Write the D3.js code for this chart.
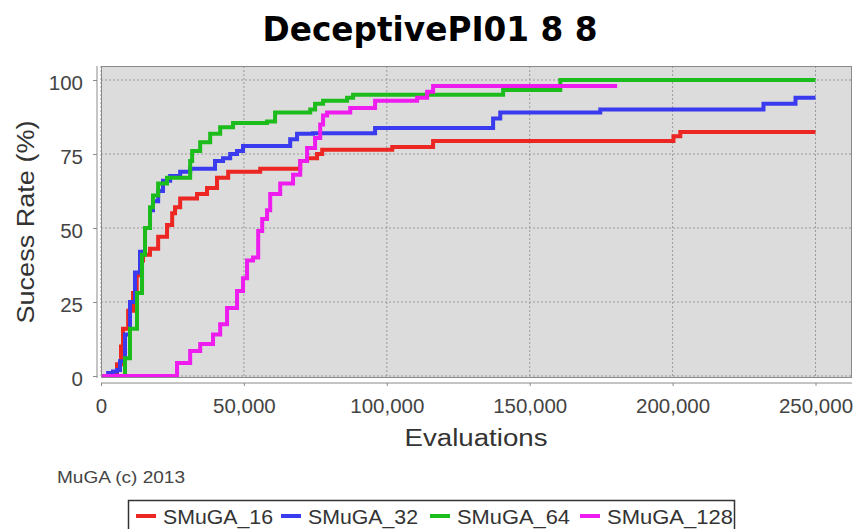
<!DOCTYPE html>
<html>
<head>
<meta charset="utf-8">
<script src="https://cdn.jsdelivr.net/npm/d3@7"></script>
<style>
  html, body { margin: 0; padding: 0; background: #fff; }
  svg { display: block; font-family: "Liberation Sans", Arial, sans-serif; }
</style>
</head>
<body>
<svg id="chart" width="858" height="529"></svg>
<script>
// ── Data ──────────────────────────────────────────────────────────────────
const seriesNames = ["SMuGA_16", "SMuGA_32", "SMuGA_64", "SMuGA_128"];
const seriesColors = ["#ec2622", "#3a3aee", "#1cbc1c", "#ee1cee"];

const smuga16Evals = [0, 5600, 7000, 7700, 9500, 11200, 12500, 13650, 14700, 17150, 20000, 23100, 24900, 25900, 27700, 33600, 37100, 40600, 44500, 55700, 69700, 72100, 75600, 77400, 101900, 116200, 200300, 202700, 250000];
const smuga16Rate  = [0, 4, 10, 16, 22, 28, 34, 39, 41, 43, 47, 51, 55, 57, 60, 61.5, 63.5, 67, 69, 70, 72.6, 73.6, 75, 76.4, 77.4, 79.4, 81, 82.4, 82.4];

const smuga32Evals = [0, 2500, 4200, 5600, 6650, 8400, 10150, 11900, 13650, 15400, 17150, 18200, 20000, 21700, 24200, 27700, 31200, 39900, 42700, 45200, 47600, 49700, 66200, 68600, 74200, 95900, 137200, 139700, 174700, 231800, 243000, 250000];
const smuga32Rate  = [0, 1, 1.5, 2, 5, 14, 25, 35, 42, 50, 56, 59, 62.5, 66, 67.6, 69, 70, 72.6, 73.6, 75, 76, 77.7, 80, 81.8, 82, 83.8, 87, 89, 90, 92, 94, 94];

const smuga64Evals = [0, 6650, 8400, 10150, 12600, 14350, 15400, 17150, 18200, 20000, 23100, 31200, 31900, 34700, 38200, 41700, 46200, 58100, 60900, 73200, 74900, 77700, 86100, 88200, 140700, 160700, 250000];
const smuga64Rate  = [0, 0, 6, 16, 28, 41, 50, 57, 61, 65, 67, 72.6, 76, 79, 81.8, 84, 85.5, 86, 89, 90, 92, 93, 94, 95, 96.6, 100, 100];

const smuga128Evals = [0, 23100, 26600, 31200, 34700, 39200, 41700, 44100, 47600, 49700, 51100, 53200, 55000, 56400, 58100, 59200, 62700, 67200, 69700, 72100, 74900, 76700, 77700, 79100, 87200, 95900, 110600, 114100, 116200, 180600];
const smuga128Rate  = [0, 0, 4.4, 8.4, 10.8, 14, 17.5, 23, 28.7, 33, 39, 40, 49, 53, 56, 61.5, 65, 68, 72.6, 77, 80.4, 85, 88, 89, 90.5, 93, 94, 96, 98, 98];

const xTicks = [0, 50000, 100000, 150000, 200000, 250000];
const yTicks = [0, 25, 50, 75, 100];

const seriesEvals = [smuga16Evals, smuga32Evals, smuga64Evals, smuga128Evals];
const seriesRates = [smuga16Rate, smuga32Rate, smuga64Rate, smuga128Rate];

// ── Layout ────────────────────────────────────────────────────────────────
const plot = { left: 101, right: 852, top: 66, bottom: 378 };
const AXIS_GRAY = "#8a8a8a";
const GRID_GRAY = "#9a9a9a";

const svg = d3.select("#chart");

const x = d3.scaleLinear()
  .domain([0, 262770])
  .range([plot.left, plot.right]);
const y = d3.scaleLinear()
  .domain([-0.68, 104.73])
  .range([plot.bottom, plot.top]);

// Title
svg.append("text")
  .attr("x", 430).attr("y", 41)
  .attr("text-anchor", "middle")
  .attr("font-family", "'DejaVu Sans', sans-serif")
  .attr("font-weight", "bold")
  .attr("font-size", 33)
  .attr("textLength", 335)
  .attr("lengthAdjust", "spacingAndGlyphs")
  .attr("fill", "#000")
  .text("DeceptivePI01 8 8");

// Plot background
svg.append("rect")
  .attr("x", plot.left).attr("y", plot.top)
  .attr("width", plot.right - plot.left)
  .attr("height", plot.bottom - plot.top)
  .attr("fill", "#dcdcdc");

// Gridlines
const grid = svg.append("g");
grid.selectAll("line.gx")
  .data(xTicks)
  .enter().append("line")
  .attr("x1", d => x(d)).attr("x2", d => x(d))
  .attr("y1", plot.top).attr("y2", plot.bottom)
  .attr("stroke", GRID_GRAY).attr("stroke-width", 1)
  .attr("stroke-dasharray", "2,2");
grid.selectAll("line.gy")
  .data(yTicks)
  .enter().append("line")
  .attr("x1", plot.left).attr("x2", plot.right)
  .attr("y1", d => y(d)).attr("y2", d => y(d))
  .attr("stroke", GRID_GRAY).attr("stroke-width", 1)
  .attr("stroke-dasharray", "2,2");

// Series
svg.append("defs").append("clipPath").attr("id", "clip")
  .append("rect")
  .attr("x", plot.left).attr("y", plot.top)
  .attr("width", plot.right - plot.left)
  .attr("height", plot.bottom - plot.top);

const line = d3.line()
  .x(d => x(d[0]))
  .y(d => y(d[1]))
  .curve(d3.curveStepAfter);

svg.append("g")
  .attr("clip-path", "url(#clip)")
  .selectAll("path")
  .data(seriesNames.map((name, i) => d3.zip(seriesEvals[i], seriesRates[i])))
  .enter().append("path")
  .attr("d", line)
  .attr("fill", "none")
  .attr("stroke", (d, i) => seriesColors[i])
  .attr("stroke-width", 4);

// Plot outline
svg.append("rect")
  .attr("x", plot.left + 0.5).attr("y", plot.top + 0.5)
  .attr("width", plot.right - plot.left - 1)
  .attr("height", plot.bottom - plot.top - 1)
  .attr("fill", "none")
  .attr("stroke", AXIS_GRAY);

// Axes
const xAxis = d3.axisBottom(x)
  .tickValues(xTicks)
  .tickFormat(d3.format(","))
  .tickSizeInner(3).tickSizeOuter(0).tickPadding(12);
const gx = svg.append("g")
  .attr("transform", `translate(0,${plot.bottom + 5})`)
  .call(xAxis);

const yAxis = d3.axisLeft(y)
  .tickValues(yTicks)
  .tickSizeInner(4).tickSizeOuter(0).tickPadding(10);
const gy = svg.append("g")
  .attr("transform", `translate(${plot.left - 4},0)`)
  .call(yAxis);

for (const g of [gx, gy]) {
  g.select(".domain").attr("stroke", AXIS_GRAY);
  g.selectAll(".tick line").attr("stroke", AXIS_GRAY);
  g.selectAll(".tick text")
    .attr("fill", "#444")
    .attr("font-family", "'Liberation Sans', Arial, sans-serif")
    .attr("font-size", 20.5);
}
gy.selectAll(".tick text").attr("dy", "0.45em");
gy.select(".domain").attr("d", `M0,${plot.top}V${plot.bottom}`);
gx.select(".domain").attr("d", `M${plot.left},0H${plot.right}`);

// Axis labels
svg.append("text")
  .attr("transform", `translate(34,${(plot.top + plot.bottom) / 2}) rotate(-90)`)
  .attr("text-anchor", "middle")
  .attr("font-size", 23)
  .attr("textLength", 203)
  .attr("lengthAdjust", "spacingAndGlyphs")
  .attr("fill", "#333")
  .text("Sucess Rate (%)");

svg.append("text")
  .attr("x", 476).attr("y", 446)
  .attr("text-anchor", "middle")
  .attr("font-size", 23)
  .attr("textLength", 143)
  .attr("lengthAdjust", "spacingAndGlyphs")
  .attr("fill", "#333")
  .text("Evaluations");

// Footer note
svg.append("text")
  .attr("x", 57).attr("y", 483)
  .attr("font-size", 16)
  .attr("textLength", 128)
  .attr("lengthAdjust", "spacingAndGlyphs")
  .attr("fill", "#444")
  .text("MuGA (c) 2013");

// Legend
const legend = svg.append("g");
legend.append("rect")
  .attr("x", 128.5).attr("y", 500.5)
  .attr("width", 606).attr("height", 40)
  .attr("fill", "#fff")
  .attr("stroke", "#333").attr("stroke-width", 1.5);

const legendX = [136, 281, 430, 580];
const legendTextLen = [110, 110, 113, 126];
const item = legend.selectAll("g.item")
  .data(seriesNames)
  .enter().append("g")
  .attr("transform", (d, i) => `translate(${legendX[i]},516)`);
item.append("line")
  .attr("x1", 0).attr("x2", 20)
  .attr("stroke", (d, i) => seriesColors[i])
  .attr("stroke-width", 4);
item.append("text")
  .attr("x", 27).attr("dy", "0.36em")
  .attr("font-size", 21)
  .attr("textLength", (d, i) => legendTextLen[i])
  .attr("lengthAdjust", "spacingAndGlyphs")
  .attr("fill", "#333")
  .text(d => d);
</script>
</body>
</html>
